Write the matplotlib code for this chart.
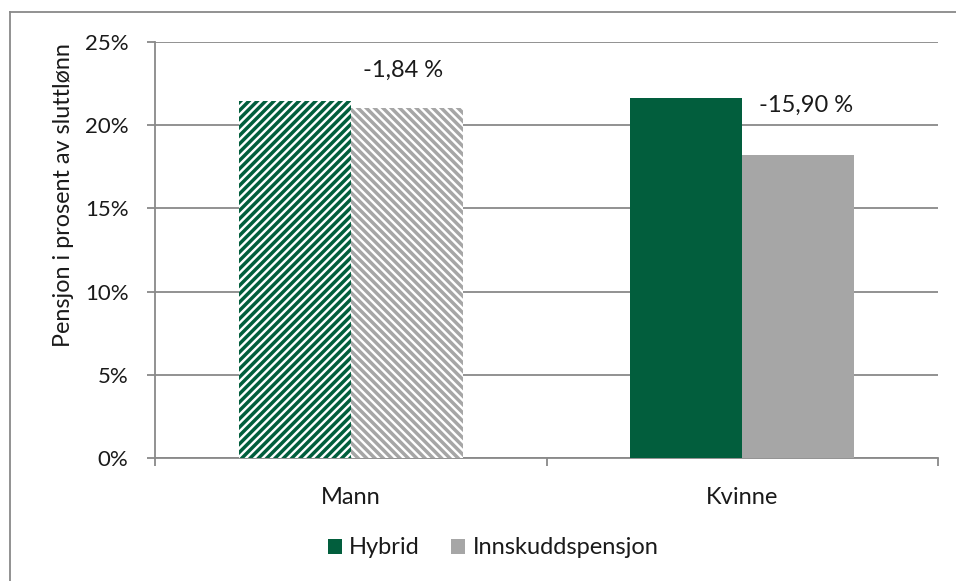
import matplotlib
matplotlib.use("Agg")
import matplotlib.pyplot as plt
from matplotlib.patches import Patch
from matplotlib.lines import Line2D
import numpy as np

# Data
categories = ["Mann", "Kvinne"]
hybrid = [21.45, 21.62]
innskudd = [21.06, 18.18]
change_labels = ["-1,84 %", "-15,90 %"]
label_heights = [23.3, 21.2]
series_names = ["Hybrid", "Innskuddspensjon"]
yticks = [0, 5, 10, 15, 20, 25]

GREEN = "#025E3D"
GRAY = "#A6A6A6"
AXIS = "#898989"

plt.rcParams["font.family"] = ["Lato", "DejaVu Sans"]
plt.rcParams["hatch.linewidth"] = 2.5

fig = plt.figure(figsize=(9.56, 5.81), dpi=100)
ax = fig.add_axes([155 / 956, 1 - 458 / 581, (938 - 155) / 956, (458 - 42) / 581])

x = np.arange(len(categories))
w = 0.286

# Mann: patterned bars, Kvinne: solid bars
for i in range(len(categories)):
    if i == 0:
        ax.bar(x[i] - w / 2, hybrid[i], w, facecolor="white", edgecolor=GREEN,
               hatch="////", linewidth=0, zorder=3)
        ax.bar(x[i] + w / 2, innskudd[i], w, facecolor="white", edgecolor=GRAY,
               hatch="\\\\\\\\", linewidth=0, zorder=3)
    else:
        ax.bar(x[i] - w / 2, hybrid[i], w, color=GREEN, linewidth=0, zorder=3)
        ax.bar(x[i] + w / 2, innskudd[i], w, color=GRAY, linewidth=0, zorder=3)

ax.text(x[0] + w / 2 - 0.01, label_heights[0], change_labels[0], ha="center",
        va="center", fontsize=17, color="#1a1a1a")
ax.text(x[1] + w / 2 + 0.02, label_heights[1], change_labels[1], ha="center",
        va="center", fontsize=17, color="#1a1a1a")

ax.set_xlim(-0.5, 1.5)
ax.set_ylim(0, 25)
ax.set_yticks(yticks)
ax.set_yticklabels([f"{t}%" for t in yticks])
ax.yaxis.grid(True, color=AXIS, linewidth=1.3)
ax.set_axisbelow(True)

ax.set_xticks(x)
ax.set_xticklabels(categories)
ax.set_xticks([-0.5, 0.5, 1.5], minor=True)
ax.tick_params(axis="x", which="major", length=0, pad=21, labelsize=17, labelcolor="#1a1a1a")
ax.tick_params(axis="x", which="minor", length=6, width=1.3, color=AXIS, direction="out")
ax.tick_params(axis="y", length=6, width=1.3, color=AXIS, pad=13, labelsize=16,
               labelcolor="#1a1a1a")

for s in ["top", "right"]:
    ax.spines[s].set_visible(False)
for s in ["left", "bottom"]:
    ax.spines[s].set_color(AXIS)
    ax.spines[s].set_linewidth(1.3)

fig.text(64 / 956, 1 - 195 / 581, "Pensjon i prosent av sluttlønn", rotation=90,
         ha="center", va="center", fontsize=16.8, color="#1a1a1a")

handles = [Patch(facecolor=GREEN, edgecolor="none"), Patch(facecolor=GRAY, edgecolor="none")]
fig.legend(handles, series_names, loc="center", bbox_to_anchor=(493 / 956, 1 - 548 / 581),
           ncol=2, frameon=False, fontsize=17, handlelength=0.62, handleheight=0.62,
           handletextpad=0.3, columnspacing=1.3, labelcolor="#1a1a1a")

# Chart area border (top and left edges)
fig.add_artist(Line2D([10 / 956, 10 / 956], [0, 1 - 12 / 581], transform=fig.transFigure,
                      color=AXIS, linewidth=1.3))
fig.add_artist(Line2D([10 / 956, 1], [1 - 12 / 581, 1 - 12 / 581], transform=fig.transFigure,
                      color=AXIS, linewidth=1.3))

fig.savefig("out.png", dpi=100)
